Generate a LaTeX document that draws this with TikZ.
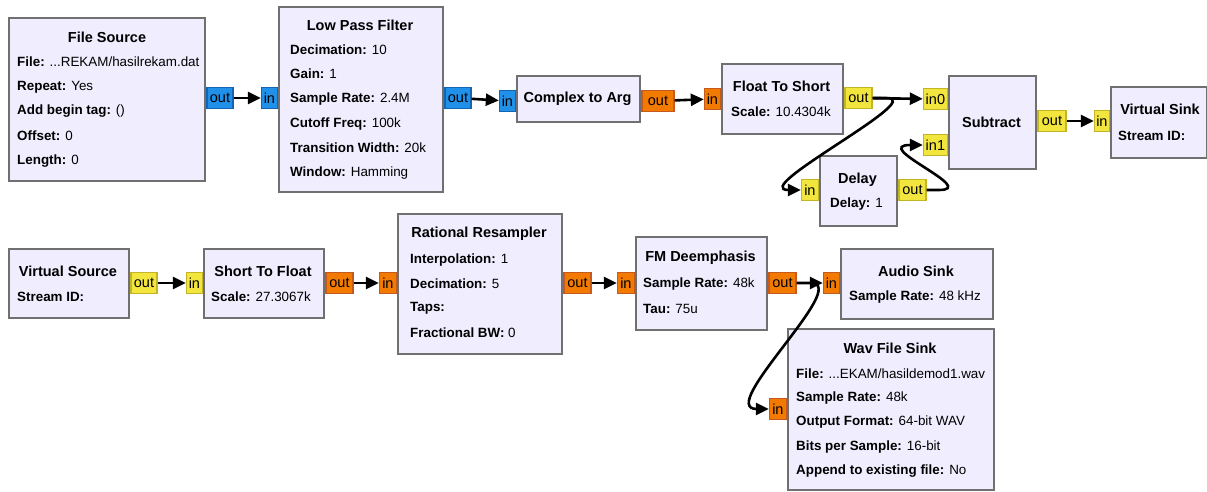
\documentclass[tikz,border=0pt]{standalone}
\usepackage{fontspec}
\setmainfont{Liberation Sans}
\usetikzlibrary{arrows.meta}

\definecolor{blkfill}{RGB}{240,238,254}
\definecolor{blkline}{RGB}{112,112,112}
\definecolor{cplx}{RGB}{32,144,232}
\definecolor{cplxline}{RGB}{20,100,180}
\definecolor{flt}{RGB}{242,122,0}
\definecolor{fltline}{RGB}{196,90,30}
\definecolor{shrt}{RGB}{242,230,62}
\definecolor{shrtline}{RGB}{196,180,40}

\newcommand{\prm}[2]{\textbf{#1:} #2}

\begin{document}
\begin{tikzpicture}[x=1pt, y=-1pt,
  font=\fontsize{13.4}{16}\selectfont,
  blk/.style={draw=blkline, line width=2.4pt, fill=blkfill, rectangle},
  ttl/.style={font=\fontsize{14.5}{16}\selectfont\bfseries, inner sep=0pt},
  lbl/.style={anchor=west, inner sep=0pt},
  port/.style={rectangle, line width=1.2pt, inner sep=0pt, minimum height=21pt, font=\fontsize{14.5}{16}\selectfont},
  pcplx/.style={port, fill=cplx, draw=cplxline},
  pflt/.style={port, fill=flt, draw=fltline},
  pshrt/.style={port, fill=shrt, draw=shrtline},
  wire/.style={draw=black, line width=2.6pt, -{Triangle[length=13pt,width=12pt]}},
  loop/.style={wire, out=0, in=180, distance=42pt}]
\useasboundingbox (0,0) rectangle (1207,491);
% Blocs
\node[blk, minimum width=196pt, minimum height=163pt, anchor=north west] (fsrc) at (8,17) {};
\node[ttl] at (107,37) {File Source};
\node[lbl] at (17,62) {\prm{File}{...REKAM/hasilrekam.dat}};
\node[lbl] at (17,87) {\prm{Repeat}{Yes}};
\node[lbl] at (17,111) {\prm{Add begin tag}{()}};
\node[lbl] at (17,136) {\prm{Offset}{0}};
\node[lbl] at (17,161) {\prm{Length}{0}};

\node[blk, minimum width=164pt, minimum height=185pt, anchor=north west] (lpf) at (278,6) {};
\node[ttl] at (360,25) {Low Pass Filter};
\node[lbl] at (290,50) {\prm{Decimation}{10}};
\node[lbl] at (290,74) {\prm{Gain}{1}};
\node[lbl] at (290,99) {\prm{Sample Rate}{2.4M}};
\node[lbl] at (290,124) {\prm{Cutoff Freq}{100k}};
\node[lbl] at (290,148) {\prm{Transition Width}{20k}};
\node[lbl] at (290,173) {\prm{Window}{Hamming}};

\node[blk, minimum width=123pt, minimum height=46pt, anchor=north west] (c2a) at (516,75) {};
\node[ttl] at (577.5,99) {Complex to Arg};

\node[blk, minimum width=121pt, minimum height=70pt, anchor=north west] (f2s) at (721,63) {};
\node[ttl] at (781.5,86) {Float To Short};
\node[lbl] at (731,112) {\prm{Scale}{10.4304k}};

\node[blk, minimum width=87pt, minimum height=93pt, anchor=north west] (sub) at (948,75) {};
\node[ttl] at (991.5,122) {Subtract};

\node[blk, minimum width=96pt, minimum height=71pt, anchor=north west] (vsnk) at (1110,86) {};
\node[ttl] at (1160,109) {Virtual Sink};
\node[lbl] at (1118,136) {\textbf{Stream ID:}};

\node[blk, minimum width=77pt, minimum height=70pt, anchor=north west] (dly) at (819,155) {};
\node[ttl] at (857.5,180) {Delay};
\node[lbl] at (830,204) {\prm{Delay}{1}};

\node[blk, minimum width=120pt, minimum height=69pt, anchor=north west] (vsrc) at (8,248) {};
\node[ttl] at (68,271) {Virtual Source};
\node[lbl] at (17,297) {\textbf{Stream ID:}};

\node[blk, minimum width=120pt, minimum height=69pt, anchor=north west] (s2f) at (203,248) {};
\node[ttl] at (263,271) {Short To Float};
\node[lbl] at (211,297) {\prm{Scale}{27.3067k}};

\node[blk, minimum width=164pt, minimum height=140pt, anchor=north west] (rrs) at (397,213) {};
\node[ttl] at (479,234) {Rational Resampler};
\node[lbl] at (410,260) {\prm{Interpolation}{1}};
\node[lbl] at (410,284) {\prm{Decimation}{5}};
\node[lbl] at (410,308) {\textbf{Taps:}};
\node[lbl] at (410,333) {\prm{Fractional BW}{0}};

\node[blk, minimum width=131pt, minimum height=93pt, anchor=north west] (fmd) at (635,236) {};
\node[ttl] at (700.5,258) {FM Deemphasis};
\node[lbl] at (643,284) {\prm{Sample Rate}{48k}};
\node[lbl] at (643,309) {\prm{Tau}{75u}};

\node[blk, minimum width=152pt, minimum height=70pt, anchor=north west] (asnk) at (840,248) {};
\node[ttl] at (916,271) {Audio Sink};
\node[lbl] at (849,297) {\prm{Sample Rate}{48 kHz}};

\node[blk, minimum width=206pt, minimum height=161pt, anchor=north west] (wav) at (787,328) {};
\node[ttl] at (890,348) {Wav File Sink};
\node[lbl] at (796,374) {\prm{File}{...EKAM/hasildemod1.wav}};
\node[lbl] at (796,398) {\prm{Sample Rate}{48k}};
\node[lbl] at (796,422) {\prm{Output Format}{64-bit WAV}};
\node[lbl] at (796,447) {\prm{Bits per Sample}{16-bit}};
\node[lbl] at (796,471) {\prm{Append to existing file}{No}};

% Ports
\node[pcplx, minimum width=26pt, anchor=west] (fsrc-out) at (fsrc.east |- 0,98) {out};
\node[pcplx, minimum width=16pt, anchor=east] (lpf-in) at (lpf.west |- 0,98) {in};
\node[pcplx, minimum width=26pt, anchor=west] (lpf-out) at (lpf.east |- 0,98) {out};
\node[pcplx, minimum width=16pt, anchor=east] (c2a-in) at (c2a.west |- 0,101) {in};
\node[pflt, minimum width=32pt, anchor=west] (c2a-out) at (c2a.east |- 0,101) {out};
\node[pflt, minimum width=16pt, anchor=east] (f2s-in) at (f2s.west |- 0,99) {in};
\node[pshrt, minimum width=27pt, anchor=west] (f2s-out) at (f2s.east |- 0,98) {out};
\node[pshrt, minimum width=24pt, anchor=east] (sub-in0) at (sub.west |- 0,99) {in0};
\node[pshrt, minimum width=24pt, anchor=east] (sub-in1) at (sub.west |- 0,145) {in1};
\node[pshrt, minimum width=28pt, anchor=west] (sub-out) at (sub.east |- 0,121) {out};
\node[pshrt, minimum width=15pt, anchor=east] (vsnk-in) at (vsnk.west |- 0,121) {in};
\node[pshrt, minimum width=17pt, anchor=east] (dly-in) at (dly.west |- 0,190) {in};
\node[pshrt, minimum width=27pt, anchor=west] (dly-out) at (dly.east |- 0,190) {out};
\node[pshrt, minimum width=26pt, anchor=west] (vsrc-out) at (vsrc.east |- 0,283) {out};
\node[pshrt, minimum width=16pt, anchor=east] (s2f-in) at (s2f.west |- 0,283) {in};
\node[pflt, minimum width=27pt, anchor=west] (s2f-out) at (s2f.east |- 0,283) {out};
\node[pflt, minimum width=17pt, anchor=east] (rrs-in) at (rrs.west |- 0,283) {in};
\node[pflt, minimum width=27pt, anchor=west] (rrs-out) at (rrs.east |- 0,283) {out};
\node[pflt, minimum width=17pt, anchor=east] (fmd-in) at (fmd.west |- 0,283) {in};
\node[pflt, minimum width=27pt, anchor=west] (fmd-out) at (fmd.east |- 0,283) {out};
\node[pflt, minimum width=16pt, anchor=east] (asnk-in) at (asnk.west |- 0,283) {in};
\node[pflt, minimum width=17pt, anchor=east] (wav-in) at (wav.west |- 0,409) {in};

% Connexions
\draw[wire] (fsrc-out) -- (lpf-in);
\draw[wire] (lpf-out) -- (c2a-in);
\draw[wire] (c2a-out) -- (f2s-in);
\draw[wire] (f2s-out) -- (sub-in0);
\draw[wire] (f2s-out.east) -- ++(14,0) to[loop] ([xshift=-12pt]dly-in.west) -- (dly-in.west);
\draw[wire] (dly-out.east) -- ++(12,0) to[loop] ([xshift=-12pt]sub-in1.west) -- (sub-in1.west);
\draw[wire] (sub-out) -- (vsnk-in);
\draw[wire] (vsrc-out) -- (s2f-in);
\draw[wire] (s2f-out) -- (rrs-in);
\draw[wire] (rrs-out) -- (fmd-in);
\draw[wire] (fmd-out) -- (asnk-in);
\draw[wire] (fmd-out.east) -- ++(14,0) to[loop] ([xshift=-12pt]wav-in.west) -- (wav-in.west);
\end{tikzpicture}
\end{document}
